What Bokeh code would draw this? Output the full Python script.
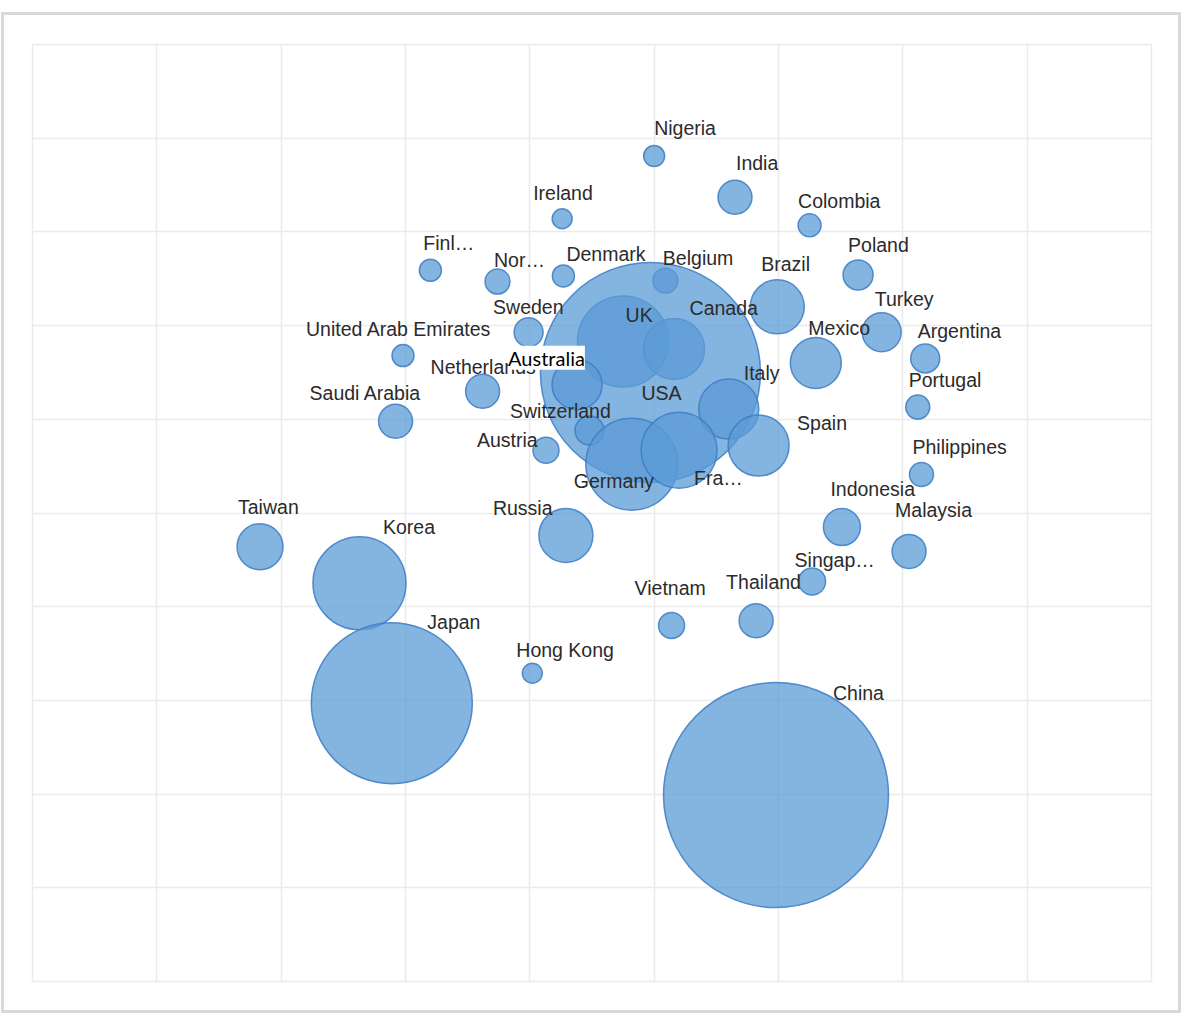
import math
from bokeh.plotting import figure
from bokeh.models import ColumnDataSource, FixedTicker, Label
from bokeh.embed import file_html
from bokeh.resources import INLINE
from bokeh.core.properties import value

# ---- data ----
countries = ["Nigeria", "India", "Ireland", "Colombia", "Finland", "Norway", "Denmark",
             "Belgium", "Brazil", "Poland", "Turkey", "Argentina", "Mexico", "Sweden",
             "United Arab Emirates", "UK", "Canada", "USA", "Australia", "Netherlands",
             "Saudi Arabia", "Portugal", "Italy", "Switzerland", "Spain", "Austria",
             "Germany", "France", "Philippines", "Indonesia", "Malaysia", "Taiwan",
             "Korea", "Russia", "Singapore", "Thailand", "Vietnam", "Hong Kong",
             "Japan", "China"]
labels = ["Nigeria", "India", "Ireland", "Colombia", "Finl\u2026", "Nor\u2026", "Denmark",
          "Belgium", "Brazil", "Poland", "Turkey", "Argentina", "Mexico", "Sweden",
          "United Arab Emirates", "UK", "Canada", "USA", "Australia", "Netherlands",
          "Saudi Arabia", "Portugal", "Italy", "Switzerland", "Spain", "Austria",
          "Germany", "Fra\u2026", "Philippines", "Indonesia", "Malaysia", "Taiwan",
          "Korea", "Russia", "Singap\u2026", "Thailand", "Vietnam", "Hong Kong",
          "Japan", "China"]
x_vals = [5.00, 5.65, 4.26, 6.25, 3.20, 3.74, 4.27,
          5.09, 5.99, 6.64, 6.83, 7.18, 6.30, 3.99,
          2.98, 4.75, 5.16, 4.97, 4.38, 3.62,
          2.92, 7.12, 5.60, 4.48, 5.84, 4.13,
          4.82, 5.20, 7.15, 6.51, 7.05, 1.83,
          2.63, 4.29, 6.27, 5.82, 5.14, 4.02,
          2.89, 5.98]
y_vals = [8.81, 8.37, 8.14, 8.07, 7.59, 7.47, 7.53,
          7.48, 7.20, 7.54, 6.93, 6.65, 6.60, 6.93,
          6.68, 6.83, 6.75, 6.50, 6.37, 6.30,
          5.98, 6.13, 6.11, 5.88, 5.72, 5.67,
          5.52, 5.67, 5.41, 4.85, 4.59, 4.64,
          4.25, 4.76, 4.27, 3.85, 3.80, 3.29,
          2.97, 1.99]
sizes = [0.87, 2.28, 0.79, 1.04, 0.96, 1.23, 0.96,
         1.23, 5.76, 1.78, 3.00, 1.66, 5.14, 1.66,
         0.96, 16.4, 7.35, 95.6, 4.94, 2.28,
         2.28, 1.14, 7.11, 1.66, 7.35, 1.34,
         16.7, 11.4, 1.14, 2.70, 2.28, 4.18,
         17.1, 5.76, 1.44, 2.28, 1.34, 0.79,
         51.2, 100.0]

# ---- label placement (screen px, from bubble centre: left edge, vertical middle) ----
label_dx = [0, 1, -29, -11.5, -7, -3.5, 3,
            -2.5, -16, -10, -7, -7.5, -7.5, -35.5,
            -97, 2.5, 15.5, -9, -69, -52,
            -86, -9, 15, -79.5, 38.5, -69,
            -58, 15, -9, -11.5, -14, -22,
            23.5, -73, -17.5, -30, -37, -16,
            35.5, 57]
label_dy = [-28, -34.5, -26, -24, -27.5, -21.5, -22,
            -23, -42.5, -30.5, -33.5, -27, -35, -25.5,
            -26.5, -26.5, -41, 21, -27, -24,
            -28.5, -27.5, -36, -20, -23, -10.5,
            17, 28, -28, -38, -41.5, -40,
            -56.5, -27, -21, -38.5, -37, -23,
            -81, -102.5]

RADIUS_SCALE = 11.25
radii = [math.sqrt(s) * RADIUS_SCALE for s in sizes]

bubbles = ColumnDataSource(dict(x=x_vals, y=y_vals, r=radii, name=countries))

special = "Australia"
idx_plain = [i for i, c in enumerate(countries) if c != special]
texts = ColumnDataSource(dict(
    x=[x_vals[i] for i in idx_plain],
    y=[y_vals[i] for i in idx_plain],
    t=[labels[i] for i in idx_plain],
    dx=[label_dx[i] for i in idx_plain],
    dy=[label_dy[i] for i in idx_plain],
))

p = figure(width=1174, height=995, x_range=(0, 9), y_range=(0, 10),
           output_backend="svg", toolbar_location=None,
           min_border_left=28, min_border_right=27,
           min_border_top=29, min_border_bottom=29)
p.margin = (15, 0, 0, 4)
p.styles = {"outline": "3px solid #d9d9d9"}
p.xaxis.visible = False
p.yaxis.visible = False
p.xgrid.ticker = FixedTicker(ticks=list(range(0, 10)))
p.ygrid.ticker = FixedTicker(ticks=list(range(0, 11)))
p.grid.grid_line_color = "#ebebeb"
p.grid.grid_line_width = 1.5
p.outline_line_color = "#ebebeb"
p.outline_line_width = 1.5
p.background_fill_color = "white"
p.border_fill_color = "white"

p.circle(x="x", y="y", radius="r", radius_units="screen", source=bubbles,
         fill_color="#5b9bd5", fill_alpha=0.75,
         line_color="#3c7dc4", line_alpha=0.85, line_width=1.5)

p.text(x="x", y="y", text="t", x_offset="dx", y_offset="dy", source=texts,
       text_font=value("Liberation Sans"), text_font_size="19.5px",
       text_color="#2b2b2b", text_align="left", text_baseline="middle")

ai = countries.index(special)
p.add_layout(Label(x=x_vals[ai], y=y_vals[ai], text=labels[ai],
                   x_offset=label_dx[ai], y_offset=-label_dy[ai],
                   text_font="Lato", text_font_size="20px", text_color="black",
                   text_align="left", text_baseline="middle",
                   background_fill_color="white", background_fill_alpha=1.0))

open("out.html", "w").write(file_html(p, INLINE))
